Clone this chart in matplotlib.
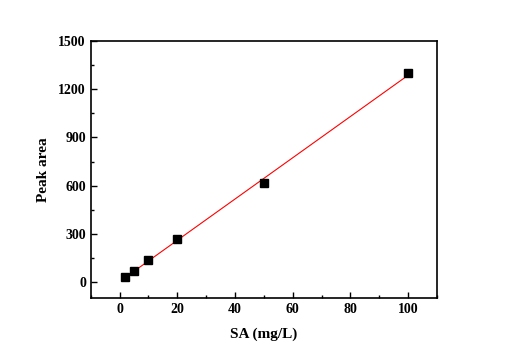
import numpy as np
import matplotlib
matplotlib.use("Agg")
import matplotlib.pyplot as plt
from matplotlib.ticker import MultipleLocator

conc = [2, 5, 10, 20, 50, 100]
area = [31, 68, 137, 268, 616, 1300]

plt.rcParams['font.family'] = ['Liberation Serif', 'DejaVu Serif']
plt.rcParams['font.weight'] = 'bold'

fig = plt.figure(figsize=(5.1, 3.6), dpi=100)
ax = fig.add_axes([0.178, 0.172, 0.679, 0.714])

slope, inter = np.polyfit(conc, area, 1)
xf = np.array([min(conc), max(conc)])
ax.plot(xf, slope * xf + inter, color='red', lw=0.8, zorder=2)
ax.plot(conc, area, 's', color='black', markersize=6, zorder=3)

ax.set_xlim(-10, 110)
ax.set_ylim(-100, 1500)
ax.xaxis.set_major_locator(MultipleLocator(20))
ax.xaxis.set_minor_locator(MultipleLocator(10))
ax.yaxis.set_major_locator(MultipleLocator(300))
ax.yaxis.set_minor_locator(MultipleLocator(150))
ax.tick_params(which='both', direction='in', top=False, right=False, labelsize=10, width=1)
ax.tick_params(which='major', length=4)
ax.tick_params(which='minor', length=2.5)
for lab in ax.get_xticklabels() + ax.get_yticklabels():
    lab.set_fontweight('bold')
for s in ax.spines.values():
    s.set_linewidth(1.2)

ax.set_xlabel('SA (mg/L)', fontsize=11, fontweight='bold', labelpad=8)
ax.set_ylabel('Peak area', fontsize=11, fontweight='bold', labelpad=6)

fig.savefig('out.png', dpi=100)
